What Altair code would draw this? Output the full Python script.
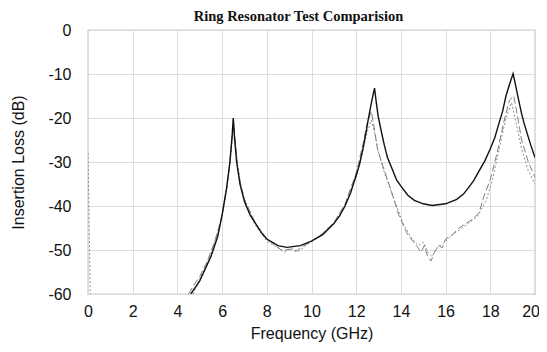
import altair as alt
import pandas as pd

# Series 1: solid (model)
f_solid = [4.6, 5.0, 5.5, 5.8, 6.0, 6.2, 6.35, 6.45, 6.5, 6.55, 6.65, 6.8, 7.0, 7.25, 7.5, 7.75, 8.0,
           8.5, 8.9, 9.5, 10.0, 10.5, 11.0, 11.25, 11.5, 11.75, 12.0, 12.15, 12.3, 12.45, 12.55, 12.68,
           12.82, 12.9, 12.98, 13.1, 13.25, 13.4, 13.6, 13.8, 14.0, 14.3, 14.6, 15.0, 15.4, 16.0, 16.5,
           16.8, 17.0, 17.25, 17.5, 17.75, 18.0, 18.2, 18.4, 18.55, 18.7, 18.85, 19.02, 19.12, 19.25,
           19.4, 19.5, 19.65, 19.8, 20.0]
db_solid = [-60, -57, -51.5, -47, -42, -36, -30, -24, -20, -24, -30, -35, -39, -42, -44, -46, -47.5,
            -49, -49.4, -49, -48, -46.5, -44, -42.3, -40, -37, -33, -30.5, -27, -23, -20, -16.5,
            -13.2, -16.5, -19.5, -22.5, -26, -29, -31.5, -34, -35.5, -37.5, -38.7, -39.5, -39.9, -39.5, -38.5,
            -37.3, -36, -34.3, -32, -29.8, -27, -24.5, -21, -18.5, -15, -12.5, -9.9, -12.3, -15.5,
            -19, -21, -23.5, -26, -29]

# Series 2: dashed (measured A)
f_dash = [4.5, 4.8, 5.0, 5.3, 5.6, 5.8, 6.0, 6.2, 6.35, 6.45, 6.5, 6.56, 6.67, 6.82, 7.0, 7.5, 8.0,
          8.4, 8.7, 9.0, 9.3, 9.6, 10.0, 10.5, 11.0, 11.5, 12.0, 12.3, 12.5, 12.68, 12.8, 12.95,
          13.2, 13.5, 13.9, 14.3, 14.7, 14.9, 15.05, 15.2, 15.35, 15.5, 15.7, 15.85, 16.0, 16.3,
          16.6, 16.9, 17.2, 17.5, 17.7, 18.0, 18.3, 18.6, 18.85, 19.05, 19.2, 19.4, 19.7, 20.0]
db_dash = [-60, -57.5, -56, -53, -49, -46, -42, -36, -30, -24, -20.5, -24, -30, -35, -38.5, -44, -47.5,
           -49, -50.2, -49.8, -50.3, -49.2, -48, -46.3, -43.8, -39.5, -32.5, -26, -21, -18.5, -22, -27,
           -31, -35.5, -42, -46.5, -49, -50.5, -49, -51.5, -52.5, -50.5, -49, -49.5, -47.5, -46.5,
           -45, -44, -43, -41.5, -38, -34, -28, -21, -16, -15, -19, -25, -30, -33.5]

# Series 3: dotted (measured B)
f_dot = [0.0, 0.04, 0.07, 0.1, None,
         4.7, 5.0, 5.5, 6.0, 6.2, 6.35, 6.45, 6.52, 6.58, 6.7, 6.85, 7.0, 7.5, 8.0, 8.5, 8.8, 9.1,
         9.4, 9.8, 10.3, 11.0, 11.5, 12.0, 12.3, 12.5, 12.68, 12.85, 13.0, 13.3, 13.7, 14.1, 14.5,
         14.8, 15.0, 15.2, 15.4, 15.6, 15.9, 16.2, 16.6, 17.0, 17.4, 17.8, 18.1, 18.4, 18.7, 18.95,
         19.15, 19.4, 19.7, 20.0]
db_dot = [-28, -40, -50, -60, None,
          -60, -56.5, -51, -42.5, -36.5, -30.5, -25, -21, -25, -31, -35.5, -38.5, -44.5, -48, -49.5, -50.5, -49.6,
          -50.4, -48.8, -47, -44, -40, -33.5, -27.5, -23, -20.5, -24, -28, -33, -38.5, -44, -47.5,
          -49, -48.2, -50.5, -51.5, -49.5, -48.5, -47, -45.5, -44, -42.5, -39, -34, -27, -20, -16.5,
          -21, -27, -32, -35]

x_ticks = [0, 2, 4, 6, 8, 10, 12, 14, 16, 18, 20]
y_ticks = [0, -10, -20, -30, -40, -50, -60]

rows = []
for i, (f, d) in enumerate(zip(f_solid, db_solid)):
    rows.append({"f": f, "db": d, "series": "solid", "seg": "solid", "o": i})
for i, (f, d) in enumerate(zip(f_dash, db_dash)):
    rows.append({"f": f, "db": d, "series": "dashed", "seg": "dashed", "o": i})
seg = 0
for i, (f, d) in enumerate(zip(f_dot, db_dot)):
    if f is None:
        seg += 1
        continue
    rows.append({"f": f, "db": d, "series": "dotted", "seg": f"dotted{seg}", "o": i})
df = pd.DataFrame(rows)

x = alt.X("f:Q", scale=alt.Scale(domain=[0, 20], nice=False),
          axis=alt.Axis(values=x_ticks, title="Frequency (GHz)", labelExpr="'' + datum.value",
                        labelFlush=True, labelFlushOffset=4.5))
y = alt.Y("db:Q", scale=alt.Scale(domain=[-60, 0], nice=False),
          axis=alt.Axis(values=y_ticks, title="Insertion Loss (dB)", labelExpr="'' + datum.value",
                        labelFlush=False))

dot = alt.Chart(df[df.series == "dotted"]).mark_line(
    color="#8e8e8e", strokeWidth=1, strokeDash=[2, 2], clip=True
).encode(x=x, y=y, detail="seg:N", order="o:Q")
dash = alt.Chart(df[df.series == "dashed"]).mark_line(
    color="#808080", strokeWidth=1, strokeDash=[7, 3], clip=True
).encode(x=x, y=y, detail="seg:N", order="o:Q")
solid = alt.Chart(df[df.series == "solid"]).mark_line(
    color="#111111", strokeWidth=1.4, clip=True
).encode(x=x, y=y, order="o:Q")

chart = alt.layer(dot, dash, solid).properties(
    width=447, height=264,
    autosize=alt.AutoSizeParams(type="none"),
    padding={"left": 80, "top": 22, "right": 4, "bottom": 48},
    title=alt.TitleParams("Ring Resonator Test Comparision", font="Liberation Serif",
                          fontSize=14.5, fontWeight="bold", color="#111", offset=0, dx=-13, dy=2),
).configure_view(stroke="#999999", strokeWidth=1.2).configure_axis(
    grid=True, gridColor="#dcdcdc", gridWidth=1, domain=False, ticks=False,
    labelFont="Liberation Sans", labelFontSize=16, labelColor="#111",
    titleFont="Liberation Sans", titleFontSize=16, titleColor="#111", titleFontWeight="normal",
).configure_axisX(labelPadding=9, titlePadding=6).configure_axisY(labelPadding=17, titlePadding=21)

chart.save("out.html", embed_options={"renderer": "svg", "actions": False})
